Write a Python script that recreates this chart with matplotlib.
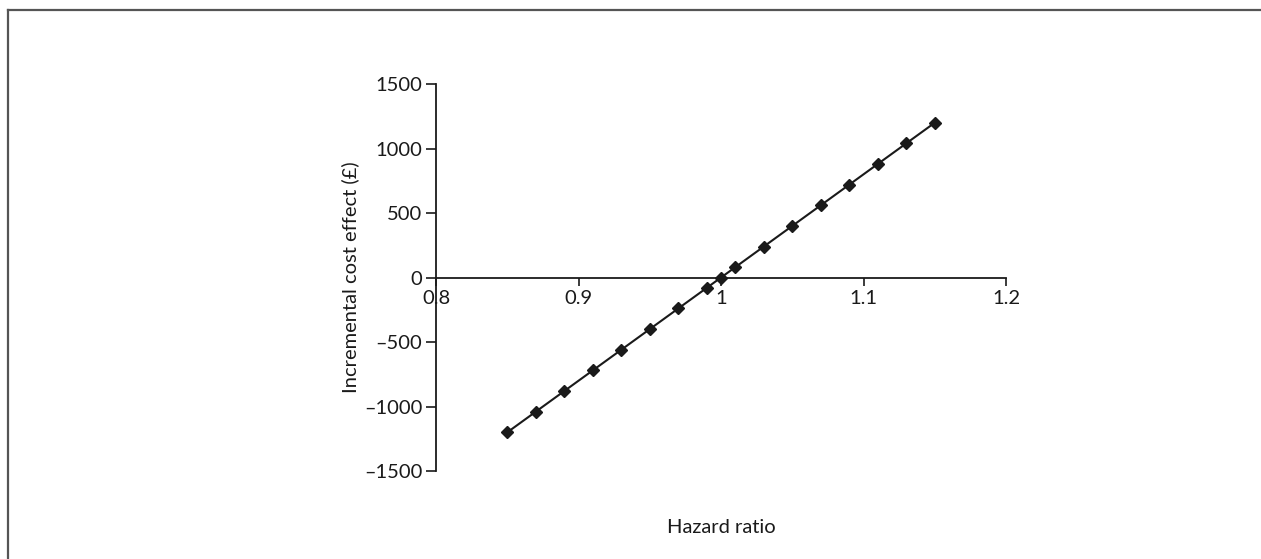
import matplotlib
matplotlib.use("Agg")
import matplotlib.pyplot as plt
from matplotlib.lines import Line2D

plt.rcParams['font.family'] = ['Lato', 'DejaVu Sans']

# data
hazard_ratio = [0.85, 0.87, 0.89, 0.91, 0.93, 0.95, 0.97, 0.99, 1.00, 1.01,
                1.03, 1.05, 1.07, 1.09, 1.11, 1.13, 1.15]
cost_effect = [-1200, -1040, -880, -720, -560, -400, -240, -80, 0, 80,
               240, 400, 560, 720, 880, 1040, 1200]

x_ticks = [0.8, 0.9, 1.0, 1.1, 1.2]
x_tick_labels = ['0.8', '0.9', '1', '1.1', '1.2']
y_ticks = [-1500, -1000, -500, 0, 500, 1000, 1500]
y_tick_labels = ['\u20131500', '\u20131000', '\u2013500', '0', '500', '1000', '1500']

fig = plt.figure(figsize=(12.61, 5.59), dpi=100)
ax = fig.add_axes([0.3458, 0.1574, 0.4520, 0.6923])

ax.plot(hazard_ratio, cost_effect, color='#1a1a1a', lw=1.5,
        marker='D', ms=6.5, mfc='#1a1a1a', mec='#1a1a1a', clip_on=False)

ax.set_xlim(0.8, 1.2)
ax.set_ylim(-1500, 1500)
ax.set_xticks(x_ticks)
ax.set_xticklabels(x_tick_labels)
ax.set_yticks(y_ticks)
ax.set_yticklabels(y_tick_labels)

ax.spines['right'].set_visible(False)
ax.spines['top'].set_visible(False)
ax.spines['bottom'].set_position(('data', 0))
for s in ['left', 'bottom']:
    ax.spines[s].set_linewidth(1.3)
    ax.spines[s].set_color('#1a1a1a')

ax.tick_params(axis='y', direction='out', length=7, width=1.2, labelsize=14.5,
               colors='#1a1a1a', pad=3)
ax.tick_params(axis='x', direction='out', length=6, width=1.2, labelsize=14.5,
               colors='#1a1a1a', pad=3)

ax.set_xlabel('Hazard ratio', fontsize=14.5, color='#1a1a1a')
ax.xaxis.set_label_coords(0.5, -0.124)
ax.set_ylabel('Incremental cost effect (\u00a3)', fontsize=14.5, color='#1a1a1a')
ax.yaxis.set_label_coords(-0.135, 0.5)

# outer frame (top and left edges visible)
fig.add_artist(Line2D([8 / 1261, 1.0], [1 - 9.5 / 559, 1 - 9.5 / 559],
                      transform=fig.transFigure, color='#555555', lw=1.6))
fig.add_artist(Line2D([8 / 1261, 8 / 1261], [0.0, 1 - 9.5 / 559],
                      transform=fig.transFigure, color='#555555', lw=1.6))

fig.savefig('out.png', dpi=100)
